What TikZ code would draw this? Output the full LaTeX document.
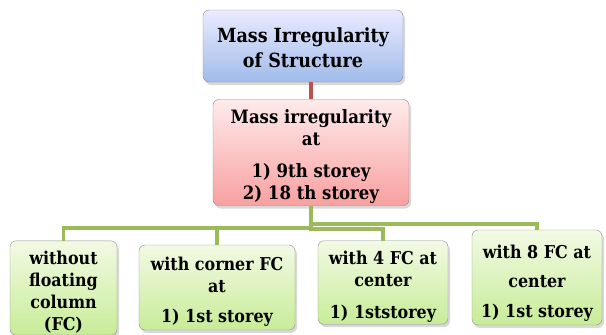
\documentclass[tikz,border=0pt]{standalone}
\usepackage{fontspec}
\setmainfont{DejaVu Serif Condensed}
\usepackage{tikz}
\usetikzlibrary{shadows}

\definecolor{lineRed}{RGB}{192,80,77}
\definecolor{lineGreen}{RGB}{155,187,89}
\newcommand{\dn}[1]{\rule{0pt}{#1}}

\begin{document}
\begin{tikzpicture}
		[x=1pt,y=-1pt,
		 b/.style= {draw=black!45,rounded corners=6pt,align=center,inner sep=2pt,
			drop shadow={opacity=0.3,shadow xshift=2pt,shadow yshift=-3pt}},
		 bt/.style= {b,top color=blue!8!white,bottom color={rgb,255:red,160;green,188;blue,234},
			font=\fontsize{19.5}{25}\selectfont\bfseries},
		 bm/.style= {b,top color=red!8!white,bottom color={rgb,255:red,248;green,160;blue,160},
			font=\fontsize{18.4}{22}\selectfont\bfseries},
		 bl/.style= {b,top color={rgb,255:red,242;green,250;blue,228},bottom color={rgb,255:red,200;green,236;blue,152},
			font=\fontsize{17.7}{22}\selectfont\bfseries},
		 up/.style= {line width=3.5pt,draw=lineRed},
		 elbow/.style= {line width=3.5pt,draw=lineGreen,
			to path={(\tikztostart) |- ([yshift=-#1pt]\tikztotarget.center) -- (\tikztotarget)}}]

		\useasboundingbox (0,0) rectangle (606,335);

		\node[bt,minimum width=200pt,minimum height=72pt] (top) at (303,46)
			{\dn{19pt}Mass Irregularity\\of Structure}
		;

		\node[bm,minimum width=196pt,minimum height=105pt] (mid) at (311,152.5)
			{\dn{22pt}Mass irregularity\\at\\[10pt]1) 9th storey\\2) 18 th storey}
			edge [up]	(mid.north |- top.south)
		;

		\node[bl,minimum width=107pt,minimum height=91pt] (c1) at (63.5,288)
			{\dn{21.5pt}without\\floating\\column\\(FC)}
			edge [elbow=75.5]	(mid)
		;

		\node[bl,minimum width=156pt,minimum height=85pt] (c2) at (217,287.5)
			{\dn{21.5pt}with corner FC\\at\\[8pt]1) 1st storey}
			edge [elbow=75.5]	(mid)
		;

		\node[bl,minimum width=130pt,minimum height=79pt] (c3) at (383,282.5)
			{\dn{21.5pt}with 4 FC  at\\center\\[10pt]1) 1ststorey}
			edge [elbow=76.5]	(mid)
		;

		\node[bl,minimum width=130pt,minimum height=95pt] (c4) at (537,277.5)
			{\dn{24pt}with 8 FC at\\[7pt]center\\[8pt]1) 1st storey}
			edge [elbow=71.5]	(mid)
		;

	\end{tikzpicture}
\end{document}
